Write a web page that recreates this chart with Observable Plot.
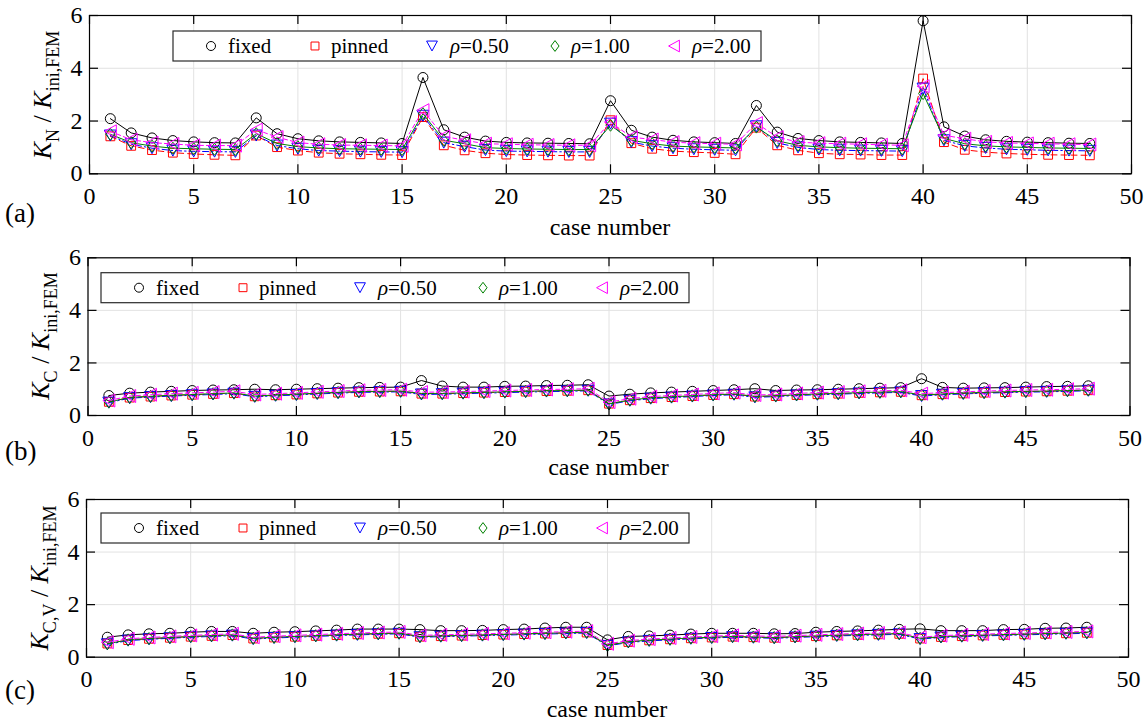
<!DOCTYPE html>
<html><head><meta charset="utf-8">
<script src="https://cdn.jsdelivr.net/npm/d3@7"></script>
<script src="https://cdn.jsdelivr.net/npm/@observablehq/plot@0.6"></script>
<style>
body{margin:0;background:#fff;}
#root{position:relative;width:1148px;height:721px;font-family:"Liberation Serif","Times New Roman",serif;}
.panel{position:absolute;left:0;}
.panel text{font-family:"Liberation Serif","Times New Roman",serif;}
</style></head><body><div id="root"></div>
<script>
// ---------- data ----------
const cases = [1,2,3,4,5,6,7,8,9,10,11,12,13,14,15,16,17,18,19,20,21,22,23,24,25,26,27,28,29,30,31,32,33,34,35,36,37,38,39,40,41,42,43,44,45,46,47,48];
const xTicks = [0,5,10,15,20,25,30,35,40,45,50];
const yTicks = [0,2,4,6];
const seriesNames = ["fixed","pinned","ρ=0.50","ρ=1.00","ρ=2.00"];

// panel (a) K_N / K_ini,FEM
const fixedA  = [2.09,1.55,1.36,1.26,1.21,1.18,1.17, 2.12,1.52,1.33,1.25,1.21,1.19,1.17,1.15, 3.65,1.67,1.39,1.24,1.19,1.17,1.16,1.15,1.14, 2.77,1.65,1.39,1.27,1.21,1.18,1.15, 2.59,1.58,1.34,1.26,1.21,1.19,1.17,1.15, 5.80,1.78,1.43,1.29,1.23,1.20,1.18,1.16,1.15];
const pinnedA = [1.42,1.06,0.90,0.80,0.75,0.72,0.70, 1.45,1.01,0.88,0.80,0.76,0.74,0.72,0.71, 2.15,1.08,0.89,0.78,0.73,0.71,0.70,0.69,0.69, 2.03,1.16,0.95,0.86,0.82,0.79,0.74, 1.75,1.08,0.89,0.78,0.74,0.73,0.71,0.71, 3.61,1.20,0.91,0.82,0.77,0.74,0.72,0.71,0.70];
const rho05A  = [1.45,1.12,0.97,0.88,0.85,0.84,0.83, 1.45,1.07,0.95,0.88,0.86,0.84,0.83,0.82, 2.20,1.18,1.03,0.90,0.86,0.85,0.84,0.83,0.83, 1.90,1.20,1.05,0.97,0.93,0.91,0.89, 1.80,1.17,1.00,0.92,0.89,0.88,0.87,0.86, 3.23,1.27,1.06,0.98,0.93,0.91,0.89,0.88,0.87];
const rho10A  = [1.50,1.18,1.05,0.97,0.95,0.93,0.92, 1.52,1.15,1.03,0.98,0.95,0.94,0.93,0.92, 2.28,1.27,1.14,0.99,0.96,0.94,0.93,0.92,0.92, 1.84,1.27,1.14,1.05,1.02,1.00,0.98, 1.77,1.25,1.08,1.02,0.99,0.97,0.96,0.95, 3.04,1.34,1.14,1.06,1.02,1.00,0.98,0.97,0.96];
const rho20A  = [1.61,1.29,1.18,1.13,1.08,1.07,1.07, 1.67,1.39,1.18,1.12,1.09,1.08,1.07,1.06, 2.41,1.42,1.27,1.14,1.12,1.10,1.09,1.08,1.08, 1.96,1.39,1.30,1.20,1.16,1.14,1.12, 1.92,1.39,1.20,1.16,1.14,1.12,1.10,1.08, 3.32,1.46,1.33,1.21,1.17,1.15,1.14,1.12,1.11];

// panel (b) K_C / K_ini,FEM
const fixedB  = [0.76,0.85,0.89,0.92,0.95,0.97,0.98, 1.00,0.98,1.00,1.02,1.04,1.06,1.07,1.08, 1.33,1.12,1.08,1.08,1.11,1.12,1.14,1.15,1.17, 0.74,0.81,0.86,0.89,0.92,0.95,0.98, 1.02,0.95,0.97,0.98,1.00,1.02,1.04,1.06, 1.40,1.07,1.04,1.05,1.06,1.08,1.10,1.11,1.13];
const pinnedB = [0.52,0.68,0.72,0.76,0.79,0.82,0.85, 0.73,0.77,0.80,0.84,0.87,0.90,0.91,0.92, 0.83,0.83,0.85,0.87,0.89,0.91,0.93,0.94,0.96, 0.45,0.58,0.66,0.70,0.74,0.78,0.81, 0.72,0.74,0.78,0.81,0.83,0.86,0.88,0.90, 0.77,0.81,0.84,0.87,0.89,0.91,0.92,0.94,0.96];
const rho05B  = [0.49,0.66,0.70,0.74,0.77,0.80,0.83, 0.71,0.75,0.78,0.82,0.85,0.88,0.89,0.90, 0.80,0.81,0.83,0.85,0.87,0.89,0.91,0.92,0.94, 0.42,0.56,0.64,0.68,0.72,0.76,0.79, 0.69,0.72,0.76,0.79,0.81,0.84,0.86,0.88, 0.74,0.79,0.82,0.85,0.87,0.89,0.90,0.92,0.94];
const rho10B  = [0.51,0.69,0.73,0.77,0.80,0.83,0.86, 0.74,0.78,0.81,0.85,0.88,0.91,0.92,0.93, 0.84,0.84,0.86,0.88,0.90,0.92,0.94,0.95,0.97, 0.44,0.59,0.67,0.71,0.75,0.79,0.82, 0.73,0.75,0.79,0.82,0.84,0.87,0.89,0.91, 0.78,0.82,0.85,0.88,0.90,0.92,0.93,0.95,0.97];
const rho20B  = [0.57,0.74,0.79,0.83,0.86,0.89,0.92, 0.80,0.83,0.86,0.90,0.93,0.96,0.97,0.98, 0.89,0.89,0.91,0.93,0.95,0.97,0.99,1.00,1.02, 0.51,0.64,0.72,0.76,0.80,0.84,0.87, 0.78,0.80,0.84,0.87,0.89,0.92,0.94,0.96, 0.83,0.87,0.90,0.93,0.95,0.97,0.98,1.00,1.02];

// panel (c) K_C,V / K_ini,FEM
const fixedC  = [0.76,0.85,0.89,0.91,0.95,0.98,0.98, 0.91,0.95,0.97,1.00,1.03,1.07,1.07,1.07, 1.05,1.01,1.01,1.02,1.05,1.07,1.11,1.14,1.14, 0.66,0.79,0.81,0.84,0.88,0.91,0.91, 0.91,0.89,0.90,0.95,0.98,1.00,1.03,1.06, 1.08,1.01,1.01,1.01,1.05,1.06,1.10,1.11,1.14];
const pinnedC = [0.52,0.65,0.70,0.74,0.78,0.81,0.84, 0.71,0.75,0.78,0.81,0.84,0.87,0.89,0.91, 0.78,0.80,0.82,0.84,0.86,0.88,0.90,0.92,0.94, 0.46,0.58,0.64,0.68,0.72,0.75,0.78, 0.76,0.74,0.77,0.80,0.83,0.85,0.87,0.89, 0.71,0.77,0.80,0.83,0.85,0.87,0.89,0.91,0.93];
const rho05C  = [0.49,0.63,0.68,0.72,0.76,0.79,0.82, 0.69,0.73,0.76,0.79,0.82,0.85,0.87,0.89, 0.76,0.78,0.80,0.82,0.84,0.86,0.88,0.90,0.92, 0.43,0.56,0.62,0.66,0.70,0.73,0.76, 0.74,0.72,0.75,0.78,0.81,0.83,0.85,0.87, 0.69,0.75,0.78,0.81,0.83,0.85,0.87,0.89,0.91];
const rho10C  = [0.51,0.66,0.71,0.75,0.79,0.82,0.85, 0.72,0.76,0.79,0.82,0.85,0.88,0.90,0.92, 0.79,0.81,0.83,0.85,0.87,0.89,0.91,0.93,0.95, 0.45,0.59,0.65,0.69,0.73,0.76,0.79, 0.77,0.75,0.78,0.81,0.84,0.86,0.88,0.90, 0.72,0.78,0.81,0.84,0.86,0.88,0.90,0.92,0.94];
const rho20C  = [0.57,0.70,0.75,0.79,0.83,0.86,0.89, 0.76,0.80,0.83,0.86,0.89,0.92,0.94,0.96, 0.83,0.85,0.87,0.89,0.91,0.93,0.95,0.97,0.99, 0.51,0.63,0.69,0.73,0.77,0.80,0.83, 0.81,0.79,0.82,0.85,0.88,0.90,0.92,0.94, 0.76,0.82,0.85,0.88,0.90,0.92,0.94,0.96,0.98];

// ---------- styles ----------
const colors = ["#000000","#ff0000","#0000ff","#008000","#ff00ff"];
const dashes = [null,"6,4","6,3,1.5,3",null,"4,3"];
const FONT = '"Liberation Serif", "Times New Roman", serif';

function makeSym(kind, k) {
  return {draw(ctx) {
    if (kind === "circle") { const r = 5*k; ctx.moveTo(r,0); ctx.arc(0,0,r,0,2*Math.PI); }
    else if (kind === "square") { const s = 8.8*k; ctx.rect(-s/2,-s/2,s,s); }
    else if (kind === "down") { const w = 12*k, h = 11*k; ctx.moveTo(-w/2,-h/2); ctx.lineTo(w/2,-h/2); ctx.lineTo(0,h/2); ctx.closePath(); }
    else if (kind === "diamond") { const w = 9*k, h = 12*k; ctx.moveTo(0,-h/2); ctx.lineTo(w/2,0); ctx.lineTo(0,h/2); ctx.lineTo(-w/2,0); ctx.closePath(); }
    else if (kind === "left") { const w = 12*k, h = 13*k; ctx.moveTo(-w/2,0); ctx.lineTo(w/2,-h/2); ctx.lineTo(w/2,h/2); ctx.closePath(); }
  }};
}
const kinds = ["circle","square","down","diamond","left"];
const plotSyms = kinds.map(k => makeSym(k, 1));
const legSyms = kinds.map(k => makeSym(k, 0.9));

const panels = [
  {tag:"(a)", sub:"N", data:[fixedA,pinnedA,rho05A,rho10A,rho20A], top:0, h:240, mt:15, mb:66.7, ml:89, mr:17,
   yl:{x:51, y:95}, leg:{x:173, y:31}, xlab:235, tagY:222},
  {tag:"(b)", sub:"C", data:[fixedB,pinnedB,rho05B,rho10B,rho20B], top:240, h:240, mt:17.3, mb:65, ml:87.5, mr:18.5,
   yl:{x:49, y:96}, leg:{x:101, y:32.7}, xlab:235, tagY:220},
  {tag:"(c)", sub:"C,V", data:[fixedC,pinnedC,rho05C,rho10C,rho20C], top:480, h:241, mt:19, mb:64.3, ml:86, mr:20,
   yl:{x:48, y:98}, leg:{x:101, y:33}, xlab:237, tagY:219}
];

const root = document.getElementById("root");
panels.forEach(p => {
  const rows = [];
  p.data.forEach((arr, si) => arr.forEach((v, i) => rows.push({c: cases[i], v, s: si})));
  const plotH = p.h - p.mt - p.mb, plotW = 1148 - p.ml - p.mr;
  const marks = [
    Plot.gridX(xTicks, {stroke:"#e2e2e2", strokeOpacity:1}),
    Plot.gridY(yTicks, {stroke:"#e2e2e2", strokeOpacity:1})
  ];
  seriesNames.forEach((name, si) => {
    const d = rows.filter(r => r.s === si);
    marks.push(Plot.line(d, {x:"c", y:"v", stroke:colors[si], strokeWidth:1, strokeDasharray:dashes[si] || undefined}));
    marks.push(Plot.dot(d, {x:"c", y:"v", symbol:plotSyms[si], r:5, stroke:colors[si], fill:"none", strokeWidth:1}));
  });
  marks.push(
    Plot.frame({stroke:"#000", strokeWidth:1.2}),
    Plot.tickX(xTicks, {x:d=>d, insetTop:plotH-9, stroke:"#000", strokeWidth:1.2}),
    Plot.tickX(xTicks, {x:d=>d, insetBottom:plotH-9, stroke:"#000", strokeWidth:1.2}),
    Plot.tickY(yTicks, {y:d=>d, insetRight:plotW-9, stroke:"#000", strokeWidth:1.2}),
    Plot.tickY(yTicks, {y:d=>d, insetLeft:plotW-9, stroke:"#000", strokeWidth:1.2}),
    Plot.axisX(xTicks, {tickSize:0, tickPadding:13, label:null, fontSize:24, fontFamily:FONT, fill:"#000"}),
    Plot.axisY(yTicks, {tickSize:0, tickPadding:7, label:null, fontSize:24, fontFamily:FONT, fill:"#000"})
  );
  const svg = Plot.plot({
    width:1148, height:p.h, marginTop:p.mt, marginBottom:p.mb, marginLeft:p.ml, marginRight:p.mr,
    x:{domain:[0,50]}, y:{domain:[0,6]},
    style:{fontFamily:FONT, fontSize:"24px", color:"#000", background:"transparent", overflow:"visible"},
    marks
  });
  svg.classList.add("panel");
  svg.style.top = p.top + "px";
  root.appendChild(svg);

  const s = d3.select(svg);
  // x label
  s.append("text").attr("x", p.ml + plotW/2).attr("y", p.xlab).attr("text-anchor","middle")
    .attr("font-family", FONT).attr("font-size", 24).attr("fill","#000").text("case number");
  // panel tag
  s.append("text").attr("x", 5).attr("y", p.tagY).attr("text-anchor","start").attr("font-family", FONT).attr("font-size", 27)
    .attr("fill","#000").text(p.tag);
  // y label
  const yt = s.append("text").attr("transform", `translate(${p.yl.x},${p.yl.y}) rotate(-90)`)
    .attr("text-anchor","middle").attr("font-family", FONT).attr("font-size", 26).attr("fill","#000");
  yt.append("tspan").attr("font-style","italic").text("K");
  yt.append("tspan").attr("font-size", 18).attr("dy", 8).text(p.sub);
  yt.append("tspan").attr("dy", -8).text(" / ");
  yt.append("tspan").attr("font-style","italic").text("K");
  yt.append("tspan").attr("font-size", 18).attr("dy", 8).text("ini,FEM");
  // legend
  const lg = s.append("g").attr("transform", `translate(${p.leg.x},${p.leg.y})`);
  lg.append("rect").attr("width", 588).attr("height", 30).attr("fill","#fff").attr("stroke","#2a2a2a").attr("stroke-width",1.2);
  const mx = [38,142,259,382,501], tx = [55,158,277,398,519];
  seriesNames.forEach((name, si) => {
    lg.append("path").attr("d", d3.symbol(legSyms[si], 1)()).attr("transform", `translate(${mx[si]},15)`)
      .attr("fill","none").attr("stroke", colors[si]).attr("stroke-width",1);
    const t = lg.append("text").attr("x", tx[si]).attr("y", 22).attr("text-anchor","start").attr("font-family", FONT).attr("font-size", 21).attr("fill","#000");
    if (name.startsWith("ρ")) {
      t.append("tspan").attr("font-style","italic").text("ρ");
      t.append("tspan").text(name.slice(1));
    } else t.text(name);
  });
});
</script></body></html>
